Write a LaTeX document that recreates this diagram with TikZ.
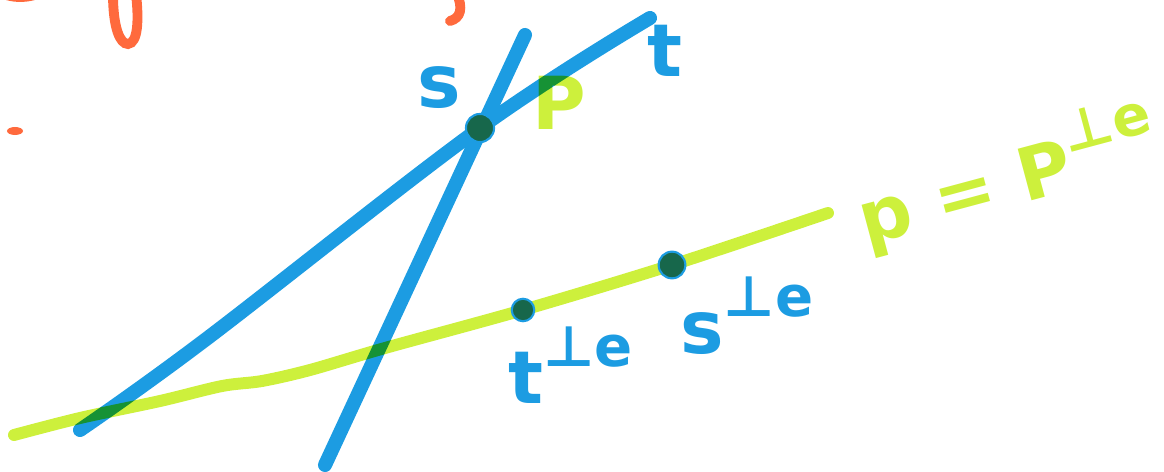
\documentclass[tikz,border=0pt]{standalone}
\usepackage{fontspec}
\setmainfont{DejaVu Sans}
\definecolor{penblue}{HTML}{1C9CE2}
\definecolor{pengreen}{HTML}{CDF03C}
\definecolor{pendark}{HTML}{17674B}
\definecolor{penorange}{HTML}{FF6A3D}
\newcommand\perpsup{\raisebox{.5em}{\fontsize{40}{40}\selectfont ⊥e}}

\begin{document}
\begin{tikzpicture}[x=.025cm,y=-.025cm,
  bluepen/.style={penblue,line width=10pt,line cap=round,line join=round},
  greenpen/.style={pengreen,line width=8.5pt,line cap=round,line join=round,blend mode=multiply},
  orangepen/.style={penorange,line width=7pt,line cap=round},
  inkdot/.style={circle,fill=pendark,draw=penblue,line width=1.5pt,inner sep=0pt,minimum size=#1},
  bluelabel/.style={text=penblue,font=\fontsize{52}{60}\selectfont\bfseries,inner sep=0pt},
  greenlabel/.style={text=pengreen,font=\fontsize{52}{60}\selectfont\bfseries,inner sep=0pt,blend mode=multiply}]
\useasboundingbox (0,0) rectangle (1164,472);
% what is left of the writing cut off at the top
\draw[orangepen] (-2,-9) .. controls (10,-1) and (30,-1) .. (44,-9);
\draw[orangepen] (113,-6) .. controls (113,28) and (120,44) .. (128,44) .. controls (138,43) and (139,20) .. (136,-6);
\draw[orangepen] (457,-6) .. controls (463,8) and (461,18) .. (450,21);
\fill[penorange] (15,131) ellipse (.2cm and .1cm);
\coordinate (s1) at (325,465); \coordinate (s2) at (525,35);
\coordinate (t1) at (80,430); \coordinate (t2) at (205,340); \coordinate (t3) at (650,18);
\coordinate (P) at (480,128);
\coordinate (tpos) at (523,310); \coordinate (spos) at (672,265);
\draw[bluepen] (s1) -- (s2);
\draw[bluepen] plot[smooth,tension=.6] coordinates {(t1) (t2) (P) (t3)};
\draw[greenpen] plot[smooth,tension=.5] coordinates {(14,435) (80,418) (160,401) (222,386) (262,381) (310,370) (385,348) (tpos) (spos) (828,213)};
\node[inkdot=20pt] (Pdot) at (P) {};
\node[inkdot=16pt] (tdot) at (tpos) {};
\node[inkdot=19pt] (sdot) at (spos) {};
\node[bluelabel] (lbls) at (439,88) {s};
\node[bluelabel] (lblt) at (665,51) {t};
\node[greenlabel] (lblP) at (559,103) {P};
\node[bluelabel,anchor=base west] (lbltperp) at (508,403) {t\perpsup};
\node[bluelabel,anchor=base west] (lblsperp) at (680,353) {s\perpsup};
\node[greenlabel,rotate=15] (lblpolar) at (1007,176) {p = P\perpsup};
\end{tikzpicture}
\end{document}
